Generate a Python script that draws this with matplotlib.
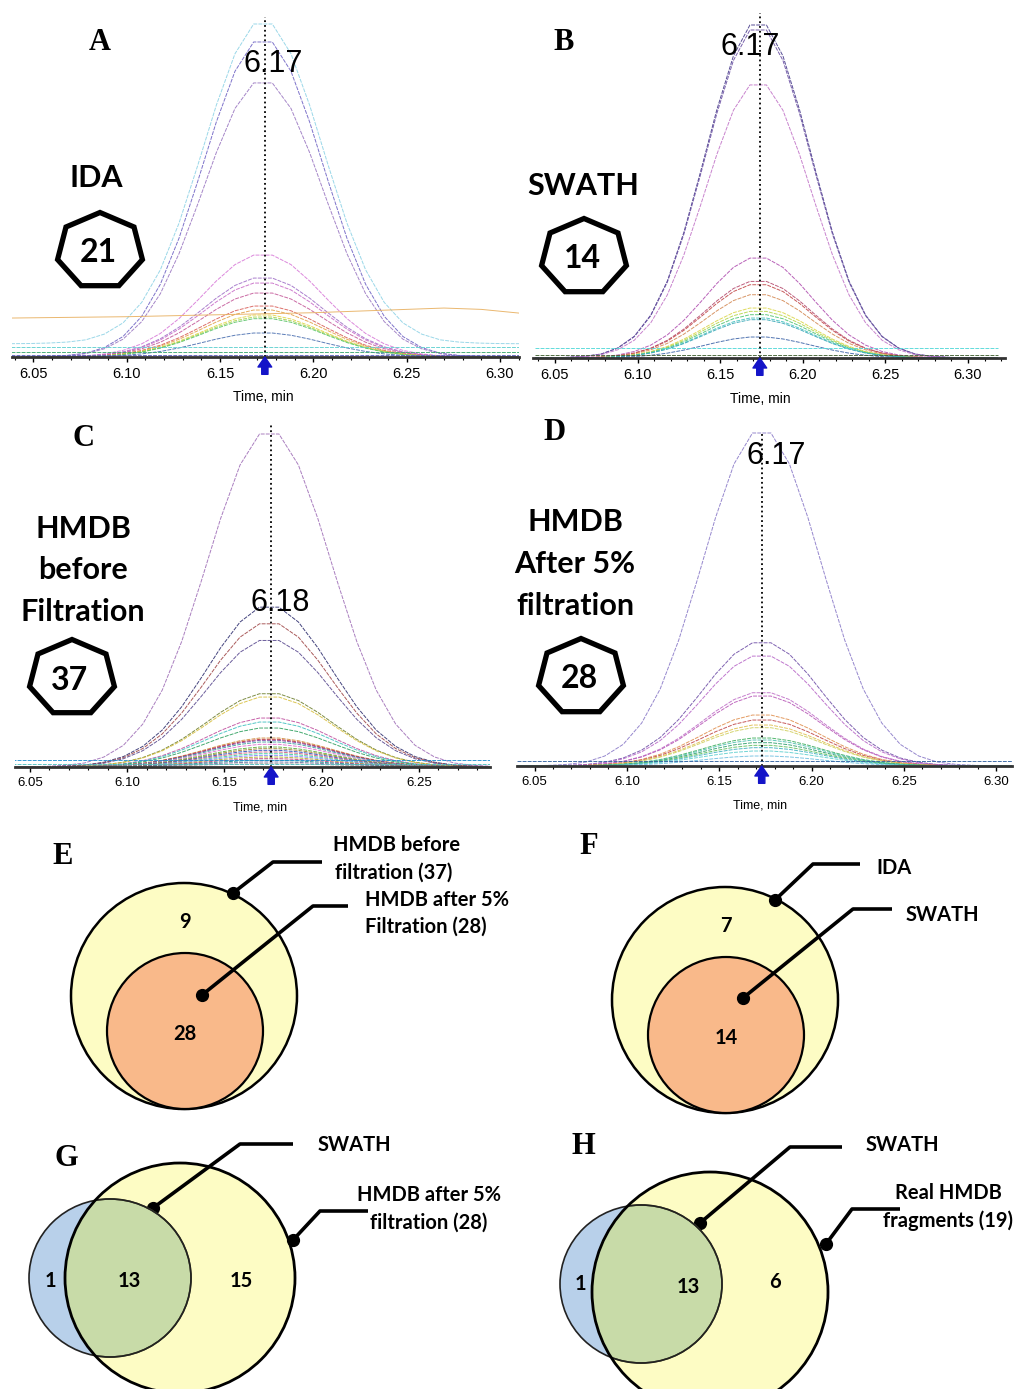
import numpy as np
import matplotlib.pyplot as plt
from matplotlib.patches import Circle, Ellipse, Polygon
from matplotlib.ticker import MultipleLocator, FormatStrFormatter

W, H = 1016, 1389
SANS_B = ['Lato', 'DejaVu Sans']
ARIAL = ['Liberation Sans', 'DejaVu Sans']
SERIF = ['Liberation Serif', 'DejaVu Serif']

# retention time grid of the extracted ion traces (min)
rt = [6.038, 6.048, 6.058, 6.068, 6.078, 6.088, 6.098, 6.108, 6.118, 6.128,
      6.138, 6.148, 6.158, 6.168, 6.178, 6.188, 6.198, 6.208, 6.218, 6.228,
      6.238, 6.248, 6.258, 6.268, 6.278, 6.288, 6.298, 6.308, 6.318]
peak = [0.0, 0.0005, 0.002, 0.005, 0.012, 0.030, 0.065, 0.129, 0.231, 0.377,
        0.557, 0.746, 0.907, 1.0, 1.0, 0.907, 0.746, 0.557, 0.377, 0.231,
        0.129, 0.065, 0.030, 0.012, 0.005, 0.002, 0.0005, 0.0, 0.0]

# A - IDA (21 fragments)
a_height = [0.96, 0.946, 0.823, 0.306, 0.237, 0.222, 0.192, 0.153, 0.141,
            0.126, 0.12, 0.115, 0.072, 0.0, 0.0, 0.0]
a_base = [0.04, 0.0, 0.0, 0.0, 0.0, 0.0, 0.0, 0.0, 0.0, 0.0, 0.0, 0.0, 0.0,
          0.03, 0.015, 0.006]
a_color = ['#8fd3e6', '#6f63c4', '#9b78c2', '#d87ad8', '#a070c8', '#c86ec8',
           '#c45a9a', '#d9605a', '#e3a24a', '#e2d548', '#a8d44c', '#5cc46a',
           '#4a6fb0', '#5fd0d0', '#3aa870', '#6060c0']
a_drift_t = [6.038, 6.10, 6.15, 6.20, 6.25, 6.27, 6.29, 6.31]
a_drift_y = [0.117, 0.121, 0.127, 0.133, 0.143, 0.147, 0.143, 0.132]

# B - SWATH (14 fragments)
b_height = [1.0, 0.985, 0.82, 0.30, 0.23, 0.22, 0.19, 0.15, 0.14, 0.13, 0.12,
            0.115, 0.063, 0.0, 0.0]
b_base = [0.0] * 13 + [0.03, 0.008]
b_color = ['#463a8a', '#6b4fa3', '#c275c8', '#b04fb0', '#b54a6e', '#c24848',
           '#d48a55', '#dcd64a', '#b4d64a', '#52c474', '#48c4c0', '#3aa8b8',
           '#3d64a8', '#50d8d8', '#406030']

# C - HMDB before filtration (37 fragments)
c_height = [1.0, 0.48, 0.43, 0.38, 0.22, 0.21, 0.147, 0.135, 0.117, 0.087,
            0.083, 0.08, 0.075, 0.068, 0.06, 0.055, 0.05, 0.045, 0.04, 0.035,
            0.03, 0.025, 0.02, 0.015, 0.01, 0.0, 0.0]
c_base = [0.0] * 25 + [0.02, 0.01]
c_color = ['#a070b8', '#303070', '#a04848', '#5a4a90', '#708030', '#d8c040',
           '#c050a0', '#40c0c0', '#30a060', '#d09040', '#c03030', '#8040a0',
           '#40a0a0', '#e070d0', '#60b040', '#a08030', '#3050c0', '#d06080',
           '#40d0a0', '#8080ff', '#b0b030', '#c04080', '#209090', '#7070a0',
           '#a0a0a0', '#2090d0', '#50c0c0']

# D - HMDB after 5% filtration (28 fragments)
d_height = [1.0, 0.37, 0.33, 0.22, 0.21, 0.153, 0.138, 0.123, 0.115, 0.084,
            0.078, 0.07, 0.062, 0.055, 0.045, 0.03, 0.0]
d_base = [0.0] * 16 + [0.015]
d_color = ['#8a7ac8', '#7050a8', '#b868c8', '#c070c8', '#b858b8', '#e09050',
           '#c04848', '#e0c050', '#d0d060', '#40b060', '#50c0b0', '#30a070',
           '#60c060', '#40b0c0', '#60d0d0', '#70c0e0', '#3060a0']

# Venn counts
e_counts = [9, 28]
f_counts = [7, 14]
g_counts = [1, 13, 15]
h_counts = [1, 13, 6]

fig = plt.figure(figsize=(W / 100, H / 100), dpi=100)


def xic_panel(x0, x1, t0, t1, base_px, heights, bases, colors, t_mark,
              mark_top, tsize):
    ax = fig.add_axes([x0 / W, 1 - base_px / H, (x1 - x0) / W, 360 / H])
    ax.set_xlim(t0, t1)
    ax.set_ylim(0, 360 / 333)
    ax.patch.set_alpha(0)
    for h, b, c in zip(heights, bases, colors):
        ax.plot(rt, [b + h * p for p in peak], color=c, lw=0.7,
                ls=(0, (4, 1.2)), alpha=0.9)
    ax.plot([t_mark, t_mark], [0, mark_top], color='black', ls=':', lw=1.3)
    ax.annotate('', xy=(t_mark, 0.0), xytext=(t_mark, -0.052),
                arrowprops=dict(arrowstyle='simple,head_length=0.8,head_width=1.1,tail_width=0.5',
                                color='#1414c8', mutation_scale=9,
                                shrinkA=0, shrinkB=0),
                annotation_clip=False)
    for s in ['top', 'left', 'right']:
        ax.spines[s].set_visible(False)
    ax.spines['bottom'].set_linewidth(2)
    ax.spines['bottom'].set_color('#333333')
    ax.set_yticks([])
    ax.xaxis.set_major_locator(MultipleLocator(0.05))
    ax.xaxis.set_minor_locator(MultipleLocator(0.01))
    ax.xaxis.set_major_formatter(FormatStrFormatter('%.2f'))
    ax.tick_params(axis='x', which='major', length=3.5, width=1, pad=4)
    ax.tick_params(axis='x', which='minor', length=2, width=0.8)
    for lab in ax.get_xticklabels():
        lab.set_fontfamily(ARIAL)
        lab.set_fontsize(tsize)
    return ax


ax_a = xic_panel(12, 519, 6.0385, 6.3102, 357, a_height, a_base, a_color, 6.174, 1.02, 10.5)
ax_a.plot(a_drift_t, a_drift_y, color='#e8b060', lw=0.7, alpha=0.9)
xic_panel(533, 1005, 6.0367, 6.3224, 358, b_height, b_base, b_color, 6.174, 1.036, 10.5)
xic_panel(15, 490, 6.0423, 6.2865, 767, c_height, c_base, c_color, 6.174, 1.03, 9.5)
xic_panel(517, 1012, 6.0405, 6.3085, 766, d_height, d_base, d_color, 6.173, 1.0, 9.5)

# overlay in pixel coordinates for labels and Venn diagrams
ov = fig.add_axes([0, 0, 1, 1])
ov.set_xlim(0, W)
ov.set_ylim(H, 0)
ov.axis('off')
ov.patch.set_facecolor('none')


def heptagon(cx, cy, label):
    ang = np.pi / 2 + 2 * np.pi * np.arange(7) / 7
    pts = np.column_stack([cx + 43.5 * np.cos(ang), cy - 38.5 * np.sin(ang)])
    ov.add_patch(Polygon(pts, closed=True, fill=False, lw=3.8, ec='black',
                         joinstyle='miter'))
    ov.text(cx - 2, cy + 2, label, ha='center', va='center', fontsize=23,
            fontweight='bold', family=SANS_B)


def letter(x, y, s):
    ov.text(x, y, s, ha='center', va='center', fontsize=22, fontweight='bold',
            family=SERIF)


def big(x, y, s):
    ov.text(x, y, s, ha='center', va='center', fontsize=22, fontweight='bold',
            family=SANS_B)


def rtlabel(x, y, s):
    ov.text(x, y, s, ha='center', va='center', fontsize=22, family=ARIAL)


def timelabel(x, y, size):
    ov.text(x, y, 'Time, min', ha='center', va='center', fontsize=size, family=ARIAL)


# A
letter(100, 42, 'A'); big(96, 178, 'IDA'); heptagon(100, 251, '21')
rtlabel(273, 64, '6.17'); timelabel(263, 397, 10)
# B
letter(564, 43, 'B'); big(583, 186, 'SWATH'); heptagon(584, 257, '14')
rtlabel(750, 47, '6.17'); timelabel(760, 399, 10)
# C
letter(83, 438, 'C')
for yy, s in zip([529, 570, 612], ['HMDB', 'before', 'Filtration']):
    big(83, yy, s)
heptagon(72, 678, '37')
rtlabel(280, 603, '6.18'); timelabel(260, 808, 9)
# D
letter(555, 433, 'D')
for yy, s in zip([522, 564, 606], ['HMDB', 'After 5%', 'filtration']):
    big(575, yy, s)
heptagon(581, 677, '28')
rtlabel(776, 456, '6.17'); timelabel(760, 805, 9)

YEL = '#fdfcc4'
PEACH = '#f9b98a'
BLUE = '#b8d0ea'
GREEN = '#c8dba8'


def leader(pts):
    xs, ys = zip(*pts)
    ov.plot(xs, ys, color='black', lw=2.6, solid_capstyle='butt')
    ov.plot(xs[0], ys[0], 'o', ms=8.5, color='black')


def vtext(x, y, s, ha='left'):
    ov.text(x, y, s, ha=ha, va='center', fontsize=14.5, fontweight='bold',
            family=SANS_B)


def num(x, y, v):
    ov.text(x, y, str(v), ha='center', va='center', fontsize=14.5,
            fontweight='bold', family=SANS_B)


# E and F: nested circles
for (cx, cy, counts) in [(184, 996, e_counts), (725, 1000, f_counts)]:
    ov.add_patch(Circle((cx, cy), 113, fc=YEL, ec='black', lw=1.8))
    ov.add_patch(Circle((cx + 1, cy + 35), 78, fc=PEACH, ec='black', lw=1.6))
    num(cx + 1, cy - 74, counts[0])
    num(cx + 1, cy + 38, counts[1])

letter(63, 857, 'E')
leader([(233, 893), (273, 862), (322, 862)])
leader([(202, 995), (313, 906), (348, 906)])
vtext(333, 845, 'HMDB before'); vtext(335, 873, 'filtration (37)')
vtext(365, 900, 'HMDB after 5%'); vtext(365, 927, 'Filtration (28)')

letter(589, 846, 'F')
leader([(775, 900), (813, 864), (860, 864)])
leader([(743, 998), (853, 909), (892, 909)])
vtext(876, 868, 'IDA'); vtext(906, 915, 'SWATH')


# G and H: overlapping circles
def overlap(cx, cy, rx, ry, bx, by, br, counts, npos):
    blue = Ellipse((bx, by), 2 * br + 2, 2 * br - 2, fc=BLUE, ec='none', zorder=1)
    yel = Ellipse((cx, cy), 2 * rx, 2 * ry, fc=YEL, ec='none', zorder=2)
    ov.add_patch(blue)
    ov.add_patch(yel)
    green = Ellipse((bx, by), 2 * br + 2, 2 * br - 2, fc=GREEN, ec='#4a4a20',
                    lw=1.2, zorder=3)
    ov.add_patch(green)
    green.set_clip_path(yel)
    ov.add_patch(Ellipse((bx, by), 2 * br + 2, 2 * br - 2, fc='none', ec='#222222',
                         lw=1.2, zorder=4))
    ov.add_patch(Ellipse((cx, cy), 2 * rx, 2 * ry, fc='none', ec='black', lw=2,
                         zorder=5))
    for (x, y), v in zip(npos, counts):
        num(x, y, v)


overlap(180, 1278, 115, 115, 110, 1278, 80, g_counts,
        [(50, 1281), (129, 1281), (241, 1281)])
letter(66, 1159, 'G')
leader([(153, 1208), (240, 1144), (293, 1144)])
leader([(293, 1240), (320, 1211), (368, 1211)])
vtext(318, 1145, 'SWATH')
vtext(429, 1195, 'HMDB after 5%', ha='center')
vtext(429, 1223, 'filtration (28)', ha='center')

overlap(710, 1292, 118, 120, 641, 1284, 80, h_counts,
        [(580, 1284), (688, 1287), (775, 1282)])
letter(583, 1147, 'H')
leader([(700, 1223), (790, 1147), (842, 1147)])
leader([(826, 1244), (852, 1209), (900, 1209)])
vtext(866, 1145, 'SWATH')
vtext(948, 1193, 'Real HMDB', ha='center')
vtext(948, 1221, 'fragments (19)', ha='center')

fig.savefig('out.png', dpi=100)
